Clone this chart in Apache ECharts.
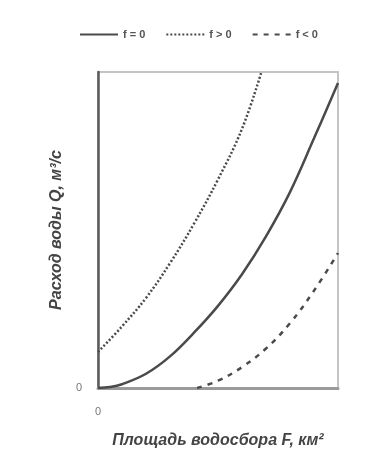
<!DOCTYPE html>
<html>
<head>
<meta charset="utf-8">
<style>
  html, body { margin: 0; padding: 0; background: #fff; }
  #chart { width: 383px; height: 471px; }
</style>
<script src="https://cdn.jsdelivr.net/npm/echarts@6/dist/echarts.min.js"></script>
</head>
<body>
<div id="chart"></div>
<script>
// значения, оси в условных единицах 0..100
const seriesNames = ["f = 0", "f > 0", "f < 0"];
const xTickLabels = ["0"];
const yTickLabels = ["0"];

const zeroF = [[0, 0], [5, 0.3], [10, 1.2], [20, 4.5], [30, 10], [40, 17.5], [50, 26], [60, 36], [70, 48], [80, 62], [90, 79], [100, 96.5]];
const positiveF = [[0, 11.4], [10, 19.5], [20, 28.5], [30, 39.5], [40, 52], [50, 66], [60, 82], [68, 99.8]];
const negativeF = [[41.3, 0], [50, 2.3], [60, 6.6], [70, 12.5], [80, 20.5], [90, 30.8], [100, 42.7]];

const chart = echarts.init(document.getElementById("chart"));

const lineColor = "#4a4a4a";

function makeSeries(name, data, type, width) {
  return {
    name: name,
    type: "line",
    data: data,
    smooth: 0.4,
    symbol: "none",
    color: lineColor,
    lineStyle: { color: lineColor, width: width, type: type },
  };
}

chart.setOption({
  backgroundColor: "#fff",
  animation: false,
  textStyle: { fontFamily: "Liberation Sans" },
  legend: {
    top: 24,
    left: 74,
    itemWidth: 38,
    itemHeight: 10,
    itemGap: 20,
    itemStyle: { opacity: 0 },
    textStyle: { color: "#555", fontSize: 11, fontWeight: "bold" },
    data: seriesNames,
  },
  grid: {
    left: 98,
    right: 45,
    top: 72,
    bottom: 83,
    show: true,
    borderColor: "#c4c4c4",
    borderWidth: 2,
  },
  xAxis: {
    type: "value",
    min: 0,
    max: 100,
    interval: 100,
    name: "Площадь водосбора F, км²",
    nameLocation: "middle",
    nameGap: 45,
    nameTextStyle: { color: "#444", fontSize: 16, fontWeight: "bold", fontStyle: "italic" },
    axisLine: { lineStyle: { color: "#9a9a9a", width: 3 } },
    axisTick: { show: false },
    splitLine: { show: false },
    axisLabel: {
      color: "#777",
      fontSize: 11,
      margin: 18,
      formatter: (v) => (v === 0 ? xTickLabels[0] : ""),
    },
  },
  yAxis: {
    type: "value",
    min: 0,
    max: 100,
    interval: 100,
    name: "Расход воды Q, м³/с",
    nameLocation: "middle",
    nameGap: 32,
    nameTextStyle: { color: "#444", fontSize: 16, fontWeight: "bold", fontStyle: "italic" },
    axisLine: { show: true, lineStyle: { color: "#5a5a5a", width: 2.5 } },
    axisTick: { show: false },
    splitLine: { show: false },
    axisLabel: {
      color: "#777",
      fontSize: 11,
      margin: 16,
      formatter: (v) => (v === 0 ? yTickLabels[0] : ""),
    },
  },
  series: [
    makeSeries(seriesNames[0], zeroF, "solid", 2.5),
    makeSeries(seriesNames[1], positiveF, [2, 2], 2.5),
    makeSeries(seriesNames[2], negativeF, [5, 6], 2.5),
  ],
});
</script>
</body>
</html>
